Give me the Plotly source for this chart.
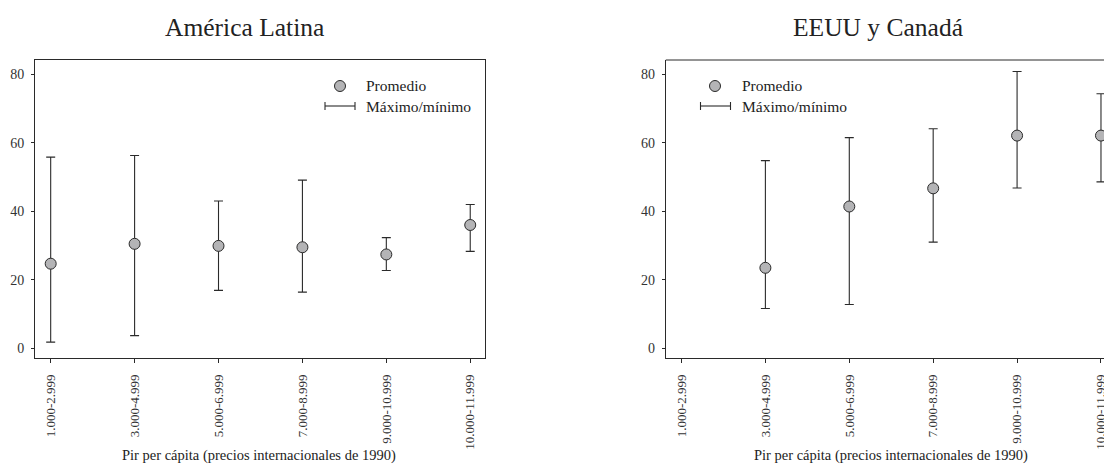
import plotly.graph_objects as go

# ---- data ----
categories = ["1.000-2.999", "3.000-4.999", "5.000-6.999", "7.000-8.999", "9.000-10.999", "10.000-11.999"]
al_mean = [24.7, 30.5, 29.9, 29.5, 27.4, 36.0]
al_max = [55.8, 56.3, 43.0, 49.1, 32.3, 42.0]
al_min = [1.8, 3.7, 16.9, 16.4, 22.7, 28.3]
na_mean = [None, 23.5, 41.4, 46.7, 62.1, 62.1]
na_max = [None, 54.8, 61.5, 64.1, 80.8, 74.3]
na_min = [None, 11.6, 12.8, 31.0, 46.8, 48.6]
y_ticks = [0, 20, 40, 60, 80]
panel_titles = ["América Latina", "EEUU y Canadá"]
x_title = "Pir per cápita (precios internacionales de 1990)"
legend_labels = ["Promedio", "Máximo/mínimo"]

# body margin is removed in the page, so the figure fills the window
W, H = 1104, 470
FONT = "Liberation Serif, DejaVu Serif, serif"
DARK = "#2a2a2a"
FILL = "#b4b4b6"


def px_x(p):
    return p / W


def px_y(p):
    return 1 - p / H


def err(mean, hi, lo):
    up = [None if m is None else h - m for m, h in zip(mean, hi)]
    dn = [None if m is None else m - l for m, l in zip(mean, lo)]
    return up, dn


fig = go.Figure()
for i, (mean, hi, lo) in enumerate([(al_mean, al_max, al_min), (na_mean, na_max, na_min)]):
    up, dn = err(mean, hi, lo)
    sfx = "" if i == 0 else "2"
    fig.add_trace(go.Scatter(
        x=categories, y=mean, mode="markers",
        xaxis="x" + sfx, yaxis="y" + sfx,
        marker=dict(size=11, color=FILL, line=dict(color=DARK, width=1)),
        error_y=dict(type="data", symmetric=False, array=up, arrayminus=dn,
                     color=DARK, thickness=1.1, width=4.5),
        cliponaxis=False, showlegend=False,
    ))

ydom = [px_y(358.3), px_y(60)]
common_x = dict(
    type="category", categoryorder="array", categoryarray=categories,
    tickangle=-90, ticks="outside", ticklen=4, tickcolor=DARK, tickwidth=1,
    showline=True, linecolor=DARK, linewidth=1, showgrid=False, zeroline=False,
    tickfont=dict(family=FONT, size=13, color="#333"), automargin=False,
    ticklabelstandoff=6, ticklabeloverflow="allow",
)
common_y = dict(
    range=[-2.92, 84.17], tickvals=y_ticks, ticks="outside", ticklen=3,
    tickcolor=DARK, tickwidth=1, showline=True, linecolor=DARK, linewidth=1,
    showgrid=False, zeroline=False, domain=ydom, automargin=False,
    tickfont=dict(family=FONT, size=14, color="#333"), ticklabelstandoff=4,
)

fig.update_layout(
    template="none",
    width=W, height=H, margin=dict(l=0, r=0, t=0, b=0, pad=0, autoexpand=False),
    paper_bgcolor="white", plot_bgcolor="white",
    xaxis=dict(common_x, domain=[px_x(35), px_x(485)], range=[-0.187, 5.176], mirror=True, anchor="y"),
    yaxis=dict(common_y, mirror=True, anchor="x"),
    xaxis2=dict(common_x, domain=[px_x(665.8), 1.0], range=[-0.187, 5.036], anchor="y2"),
    yaxis2=dict(common_y, anchor="x2"),
)

# top border of right panel (right edge is cut off by the page)
fig.add_shape(type="line", xref="x2 domain", yref="y2 domain", x0=0, x1=1, y0=1, y1=1,
              line=dict(color=DARK, width=1))

# titles and axis titles
for cx, tx in [(245, panel_titles[0]), (877.5, panel_titles[1])]:
    fig.add_annotation(text=tx, xref="paper", yref="paper", x=px_x(cx), y=px_y(28),
                       showarrow=False, xanchor="center", yanchor="middle",
                       font=dict(family=FONT, size=25.5, color="#222"))
for cx in [259, 891]:
    fig.add_annotation(text=x_title, xref="paper", yref="paper", x=px_x(cx), y=px_y(455),
                       showarrow=False, xanchor="center", yanchor="middle",
                       font=dict(family=FONT, size=14.5, color="#222"))

# legends
for mx, tx, l0, l1 in [(340, 364, 325, 355), (715, 740, 700.5, 730.5)]:
    fig.add_shape(type="circle", xref="paper", yref="paper", xsizemode="pixel", ysizemode="pixel",
                  xanchor=px_x(mx), yanchor=px_y(86), x0=-5.5, x1=5.5, y0=-5.5, y1=5.5,
                  fillcolor=FILL, line=dict(color=DARK, width=1))
    fig.add_shape(type="line", xref="paper", yref="paper", x0=px_x(l0), x1=px_x(l1),
                  y0=px_y(106), y1=px_y(106), line=dict(color=DARK, width=1.1))
    for lx in (l0, l1):
        fig.add_shape(type="line", xref="paper", yref="paper", x0=px_x(lx), x1=px_x(lx),
                      y0=px_y(102), y1=px_y(110), line=dict(color=DARK, width=1.1))
    fig.add_annotation(text=legend_labels[0], xref="paper", yref="paper", x=px_x(tx), y=px_y(86),
                       showarrow=False, xanchor="left", yanchor="middle",
                       font=dict(family=FONT, size=15.5, color="#222"))
    fig.add_annotation(text=legend_labels[1], xref="paper", yref="paper", x=px_x(tx), y=px_y(106),
                       showarrow=False, xanchor="left", yanchor="middle",
                       font=dict(family=FONT, size=15.5, color="#222"))

fig.write_html(
    "out.html",
    config={"displayModeBar": False},
    post_script="document.body.style.margin='0px';document.documentElement.style.overflow='hidden';",
)
